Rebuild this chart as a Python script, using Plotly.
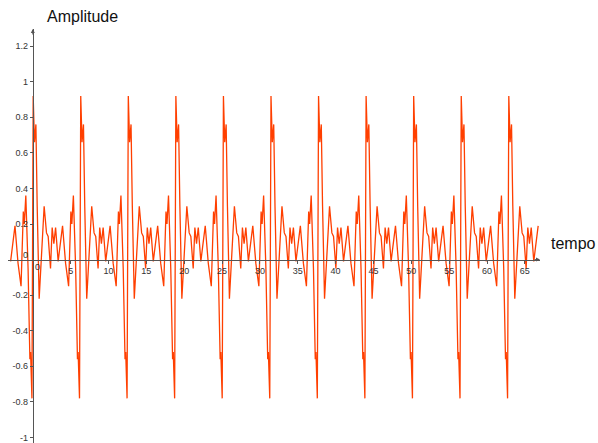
import plotly.graph_objects as go

# One period of the waveform (offset from the main peak, amplitude)
cycle_offset = [0.00, 0.17, 0.36, 0.53, 0.79, 1.45, 1.76, 1.98, 2.29, 2.51, 2.73, 2.96,
                3.30, 3.53, 3.88, 4.28, 4.68, 4.98, 5.11, 5.31, 5.61, 5.85, 5.94, 6.12]
cycle_value = [0.92, 0.66, 0.76, 0.30, -0.22, 0.30, 0.15, 0.13, -0.05, 0.18, 0.09, 0.18,
               -0.01, 0.07, 0.19, -0.02, -0.15, 0.27, 0.20, 0.36, -0.05, -0.56, -0.52, -0.78]
period = 6.283          # read: 10 periods between first and last peak
first_peak = 0.05
cycle_index = list(range(-1, 12))
t_start, t_end = -3.0, 66.8

x_ticks = [5, 10, 15, 20, 25, 30, 35, 40, 45, 50, 55, 60, 65]
y_ticks = [-1, -0.8, -0.6, -0.4, -0.2, 0.2, 0.4, 0.6, 0.8, 1, 1.2]
y_tick_text = ["-1", "-0.8", "-0.6", "-0.4", "-0.2", "0.2", "0.4", "0.6", "0.8", "1", "1.2"]

t, amp = [], []
for k in cycle_index:
    for o, v in zip(cycle_offset, cycle_value):
        xv = first_peak + k * period + o
        if t_start <= xv <= t_end:
            t.append(xv)
            amp.append(v)

W, H = 598, 443
x0_px, px_per_x = 32.8, 7.57
y0_px, px_per_y = 259.6, 177.9
xl_px, xr_px = 8, 540
yt_px, yb_px = 29, 443

x_range = [(xl_px - x0_px) / px_per_x, (xr_px - x0_px) / px_per_x]
y_range = [(y0_px - yb_px) / px_per_y, (y0_px - yt_px) / px_per_y]

axis_col = "#555555"
font_fam = "Liberation Sans, Arial, sans-serif"

fig = go.Figure()
fig.add_trace(go.Scatter(x=t, y=amp, mode="lines",
                         line=dict(color="#FF3F00", width=1.3),
                         hoverinfo="skip", showlegend=False))

fig.update_layout(
    width=W, height=H,
    margin=dict(l=0, r=0, t=0, b=0, autoexpand=False),
    paper_bgcolor="white", plot_bgcolor="white",
    xaxis=dict(domain=[xl_px / W, xr_px / W], range=x_range,
               anchor="free", position=(H - y0_px) / H,
               showline=True, linecolor=axis_col, linewidth=1,
               showgrid=False, zeroline=False,
               tickvals=x_ticks, ticks="outside", ticklen=3, tickcolor=axis_col,
               tickfont=dict(size=9, color="#333333", family=font_fam)),
    yaxis=dict(domain=[0, (H - yt_px) / H], range=y_range,
               anchor="free", position=x0_px / W,
               showline=True, linecolor=axis_col, linewidth=1,
               showgrid=False, zeroline=False,
               tickvals=y_ticks, ticktext=y_tick_text,
               ticks="outside", ticklen=3, tickcolor=axis_col,
               tickfont=dict(size=9, color="#333333", family=font_fam)),
)

ann = []
# zero labels
ann.append(dict(x=(37.7 - x0_px) / px_per_x, y=(y0_px - 266.5) / px_per_y, xref="x", yref="y",
                text="0", showarrow=False, font=dict(size=9, color="#333333", family=font_fam)))
ann.append(dict(x=(25 - x0_px) / px_per_x, y=(y0_px - 255) / px_per_y, xref="x", yref="y",
                text="0", showarrow=False, font=dict(size=9, color="#333333", family=font_fam)))
# arrowheads
ann.append(dict(x=x_range[1], y=0, xref="x", yref="y", ax=-7, ay=0, text="",
                showarrow=True, arrowhead=2, arrowsize=0.8, arrowwidth=1, arrowcolor=axis_col))
ann.append(dict(x=0, y=y_range[1], xref="x", yref="y", ax=0, ay=7, text="",
                showarrow=True, arrowhead=2, arrowsize=0.8, arrowwidth=1, arrowcolor=axis_col))
# axis titles
ann.append(dict(x=45 / W, y=1 - 17 / H, xref="paper", yref="paper", xanchor="left", yanchor="middle",
                text="Amplitude", showarrow=False, font=dict(size=16, color="#111111", family=font_fam)))
ann.append(dict(x=549 / W, y=1 - 243 / H, xref="paper", yref="paper", xanchor="left", yanchor="middle",
                text="tempo", showarrow=False, font=dict(size=16, color="#111111", family=font_fam)))
fig.update_layout(annotations=ann)

fig.write_html("out.html")
